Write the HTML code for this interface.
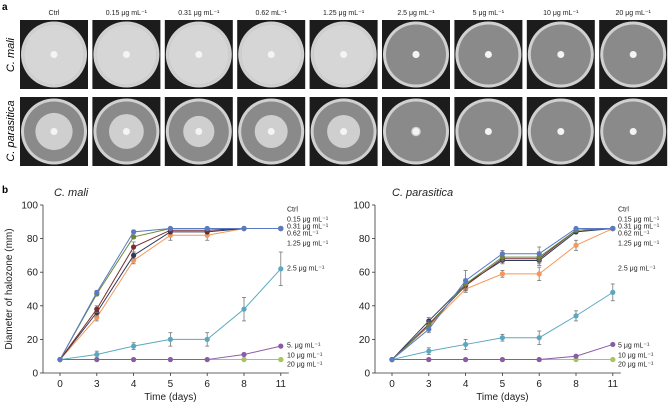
<!DOCTYPE html>
<html><head><meta charset="utf-8"><style>
body{margin:0;background:#fff;}
svg{display:block;font-family:"Liberation Sans",sans-serif;}
</style></head><body>
<svg id="fig" width="669" height="405" viewBox="0 0 669 405">
<g id="plates"></g>
<text x="2" y="10" font-size="10" font-weight="bold">a</text>
<text x="2" y="193" font-size="10" font-weight="bold">b</text>
<text transform="translate(14,55) rotate(-90)" text-anchor="middle" font-size="11" font-style="italic">C. mali</text>
<text transform="translate(14,131) rotate(-90)" text-anchor="middle" font-size="11" font-style="italic">C. parasitica</text>
<g id="charts"></g>
</svg>
<script>
const concLabels=["Ctrl","0.15 μg mL⁻¹","0.31 μg mL⁻¹","0.62 mL⁻¹","1.25 μg mL⁻¹","2.5 μg mL⁻¹","5 μg mL⁻¹","10 μg mL⁻¹","20 μg mL⁻¹"];
const maliGrowth=[1,1,1,1,1,0.12,0,0,0];
const paraGrowth=[0.62,0.58,0.52,0.55,0.55,0.16,0,0,0];
const days=["0","3","4","5","6","8","11"];
const yTicks=[0,20,40,60,80,100];
const seriesColors=["#5b7ac4","#6a8a3a","#7a2e2e","#2c3a5c","#f5975a","#5aa8c0","#8a5ca8","#a8c462","#a8c462"];
const maliVals=[
[8,48,84,86,86,86,86],
[8,47,81,86,86,86,86],
[8,38,75,85,85,86,86],
[8,36,70,84,84,86,86],
[8,33,67,82,82,86,86],
[8,11,16,20,20,38,62],
[8,8,8,8,8,11,16],
[8,8,8,8,8,8,8],
[8,8,8,8,8,8,8]];
const maliErr=[[0,1,1,0,0,0,0],[0,1,1,0,0,0,0],[0,2,3,1,1,0,0],[0,2,2,1,1,0,0],[0,2,2,3,3,0,0],[0,2,2,4,4,7,10],[0,0,0,0,0,0,0],[0,0,0,0,0,0,0],[0,0,0,0,0,0,0]];
const paraVals=[
[8,26,55,71,71,86,86],
[8,28,53,69,69,85,86],
[8,29,52,68,68,85,86],
[8,31,53,67,67,84,86],
[8,28,50,59,59,76,86],
[8,13,17,21,21,34,48],
[8,8,8,8,8,10,17],
[8,8,8,8,8,8,8],
[8,8,8,8,8,8,8]];
const paraErr=[[0,2,6,2,4,0,0],[0,2,3,2,3,1,0],[0,2,3,2,3,1,0],[0,2,3,2,3,1,0],[0,2,2,2,4,3,0],[0,2,3,2,4,3,5],[0,0,0,0,0,0,0],[0,0,0,0,0,0,0],[0,0,0,0,0,0,0]];
const legendYs=[209,219,226,233,243,268,345,355,364];

const NS="http://www.w3.org/2000/svg";
function mk(tag,attrs,parent){const e=document.createElementNS(NS,tag);for(const k in attrs)e.setAttribute(k,attrs[k]);parent.appendChild(e);return e;}
const svg=document.getElementById('fig');
const plates=document.getElementById('plates');
concLabels.forEach((lab,i)=>{
  const x=20+i*72.4;
  const t=mk('text',{x:x+34,y:15,'font-size':7,'text-anchor':'middle',fill:'#222'},svg);
  t.textContent=lab;
  
  
  [[20,maliGrowth[i],true],[97,paraGrowth[i],false]].forEach(([y,g,mali])=>{
    const r=mk('rect',{x:x,y:y,width:68,height:69,fill:'#1c1c1c'},plates);
    
    
    const cx=x+34,cy=y+34.5;
    mk('circle',{cx:cx,cy:cy,r:33,fill:'#d0d0d0'},plates);
    mk('circle',{cx:cx,cy:cy,r:30,fill:'#8a8a8a'},plates);
    if(g>0){
      mk('circle',{cx:cx,cy:cy,r:30*g,fill:mali?'#d6d6d6':'#cfcfcf'},plates);
    }
    mk('circle',{cx:cx,cy:cy,r:3.5,fill:'#f4f4f4'},plates);
  });
});
const charts=document.getElementById('charts');
function chart(x0,firstX,vals,errs,title,titleX,legendX,name){
  const g=mk('g',{},charts);
  
  
  const y0=373,k=1.68;
  const sy=v=>y0-v*k;
  const sx=i=>firstX+i*36.8;
  mk('line',{x1:x0,y1:sy(100),x2:x0,y2:y0,stroke:'#333','stroke-width':0.8},g);
  mk('line',{x1:x0,y1:y0,x2:sx(6)+8,y2:y0,stroke:'#333','stroke-width':0.8},g);
  yTicks.forEach(v=>{
    mk('line',{x1:x0-3,y1:sy(v),x2:x0,y2:sy(v),stroke:'#333','stroke-width':0.8},g);
    const t=mk('text',{x:x0-5,y:sy(v)+3.5,'font-size':10,'text-anchor':'end',fill:'#222'},g);
    t.textContent=v;
    
    
  });
  days.forEach((d,i)=>{
    mk('line',{x1:sx(i),y1:y0,x2:sx(i),y2:y0+3,stroke:'#333','stroke-width':0.8},g);
    const t=mk('text',{x:sx(i),y:y0+14,'font-size':10,'text-anchor':'middle',fill:'#222'},g);
    t.textContent=d;
    
    
  });
  const xt=mk('text',{x:(sx(0)+sx(6))/2,y:400,'font-size':10,'text-anchor':'middle',fill:'#222'},g);
  xt.textContent='Time (days)';
  
  
  const tt=mk('text',{x:titleX,y:196,'font-size':11,'font-style':'italic',fill:'#222'},g);
  tt.textContent=title;
  
  
  for(let s=vals.length-1;s>=0;s--){
    const pts=vals[s].map((v,i)=>sx(i)+','+sy(v)).join(' ');
    const pl=mk('polyline',{points:pts,fill:'none',stroke:seriesColors[s],'stroke-width':1},g);
    
    
    vals[s].forEach((v,i)=>{
      const e=errs[s][i];
      if(e>0){
        mk('line',{x1:sx(i),y1:sy(v-e),x2:sx(i),y2:sy(v+e),stroke:'#777','stroke-width':0.8},g);
        mk('line',{x1:sx(i)-2,y1:sy(v-e),x2:sx(i)+2,y2:sy(v-e),stroke:'#777','stroke-width':0.8},g);
        mk('line',{x1:sx(i)-2,y1:sy(v+e),x2:sx(i)+2,y2:sy(v+e),stroke:'#777','stroke-width':0.8},g);
      }
      const c=mk('circle',{cx:sx(i),cy:sy(v),r:2.6,fill:seriesColors[s]},g);
      
      
    });
  }
  concLabels.forEach((lab,i)=>{
    const t=mk('text',{x:legendX,y:legendYs[i]+2.5,'font-size':7,fill:'#222'},g);
    t.textContent=(name==='chart-mali'&&i===6)?'5. μg mL⁻¹':lab;
    
    
  });
}
chart(43,60,maliVals,maliErr,'C. mali',54,287,'chart-mali');
chart(375,392,paraVals,paraErr,'C. parasitica',392,618,'chart-parasitica');
const yt=mk('text',{transform:'translate(12,289) rotate(-90)','text-anchor':'middle','font-size':10,fill:'#222'},svg);
yt.textContent='Diameter of halozone (mm)';


</script>
</body></html>
